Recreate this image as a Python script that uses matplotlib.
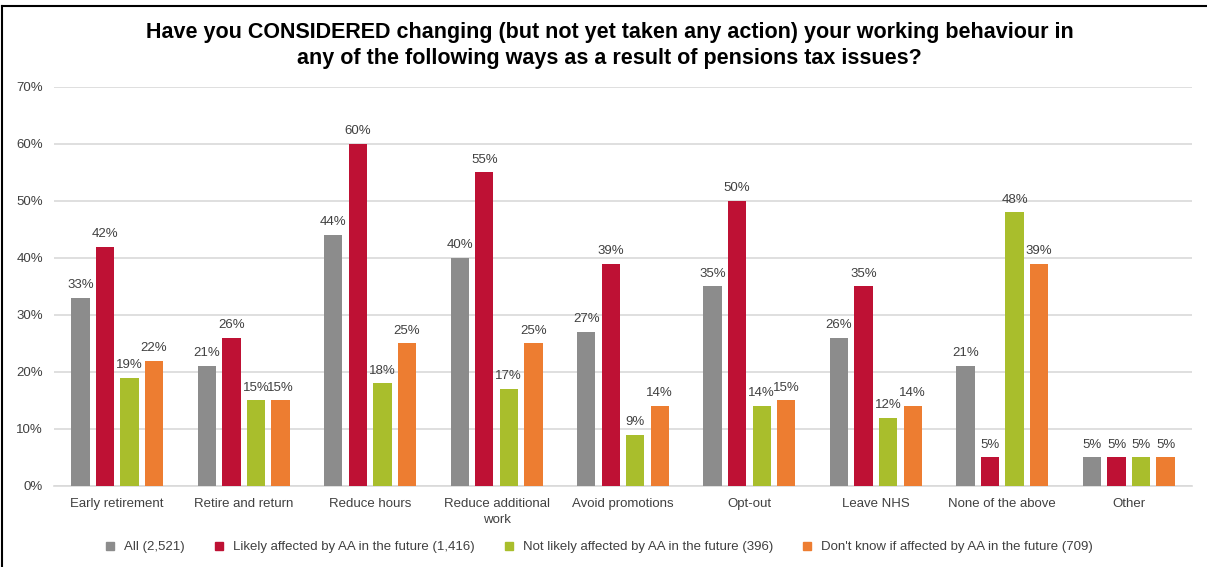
import numpy as np
import matplotlib
matplotlib.use("Agg")
import matplotlib.pyplot as plt
from matplotlib.lines import Line2D

plt.rcParams['font.family'] = ['Liberation Sans', 'DejaVu Sans']

# ===================== 数据 =====================
categories = ["Early retirement", "Retire and return", "Reduce hours",
              "Reduce additional\nwork", "Avoid promotions", "Opt-out",
              "Leave NHS", "None of the above", "Other"]

series_names = ["All (2,521)",
                "Likely affected by AA in the future (1,416)",
                "Not likely affected by AA in the future (396)",
                "Don't know if affected by AA in the future (709)"]

all_vals      = [33, 21, 44, 40, 27, 35, 26, 21, 5]
likely_vals   = [42, 26, 60, 55, 39, 50, 35, 5, 5]
notlikely_vals = [19, 15, 18, 17, 9, 14, 12, 48, 5]
dontknow_vals = [22, 15, 25, 25, 14, 15, 14, 39, 5]

colors = ["#8C8C8C", "#BE1134", "#A9BE2C", "#ED7D31"]

title = ("Have you CONSIDERED changing (but not yet taken any action) your working behaviour in\n"
         "any of the following ways as a result of pensions tax issues?")

# ===================== 绘图 =====================
fig = plt.figure(figsize=(12.07, 5.67), dpi=100)
ax = fig.add_axes([0.0447, 0.1429, 0.9429, 0.7037])

x = np.arange(len(categories))
step = 0.194
width = 0.145
series = [all_vals, likely_vals, notlikely_vals, dontknow_vals]

for i, vals in enumerate(series):
    pos = x + (i - 1.5) * step
    bars = ax.bar(pos, vals, width=width, color=colors[i], zorder=3)
    for b, v in zip(bars, vals):
        ax.text(b.get_x() + b.get_width() / 2, v + 1.2, f"{v}%",
                ha="center", va="bottom", fontsize=9.5, color="#404040")

ax.set_xlim(-0.5, len(categories) - 0.5)
ax.set_ylim(0, 70)
ax.set_yticks(range(0, 71, 10))
ax.set_yticklabels([f"{t}%" for t in range(0, 71, 10)], fontsize=9.5, color="#404040")
ax.set_xticks(x)
ax.set_xticklabels(categories, fontsize=9.5, color="#404040", linespacing=1.35)
ax.tick_params(axis="both", length=0)
ax.tick_params(axis="x", pad=9)
ax.tick_params(axis="y", pad=8)

ax.grid(axis="y", color="#D9D9D9", linewidth=1.2, zorder=0)
for s in ["top", "right", "left"]:
    ax.spines[s].set_visible(False)
ax.spines["bottom"].set_color("#D9D9D9")
ax.spines["bottom"].set_linewidth(1.2)

fig.text(0.505, 0.920, title, ha="center", va="center", fontsize=15.5,
         fontweight="bold", color="#000000", linespacing=1.32)

handles = [Line2D([0], [0], marker="s", linestyle="", markersize=6,
                  markerfacecolor=c, markeredgecolor=c) for c in colors]
fig.legend(handles, series_names, loc="center", bbox_to_anchor=(0.493, 0.035),
           ncol=4, frameon=False, fontsize=9.5, handletextpad=0.05,
           columnspacing=1.6, labelcolor="#404040")

# 边框
fig.add_artist(Line2D([0.002, 0.002], [0, 0.99], transform=fig.transFigure,
                      color="black", linewidth=1.5))
fig.add_artist(Line2D([0.002, 1.0], [0.99, 0.99], transform=fig.transFigure,
                      color="black", linewidth=1.5))

fig.savefig("out.png", dpi=100)
